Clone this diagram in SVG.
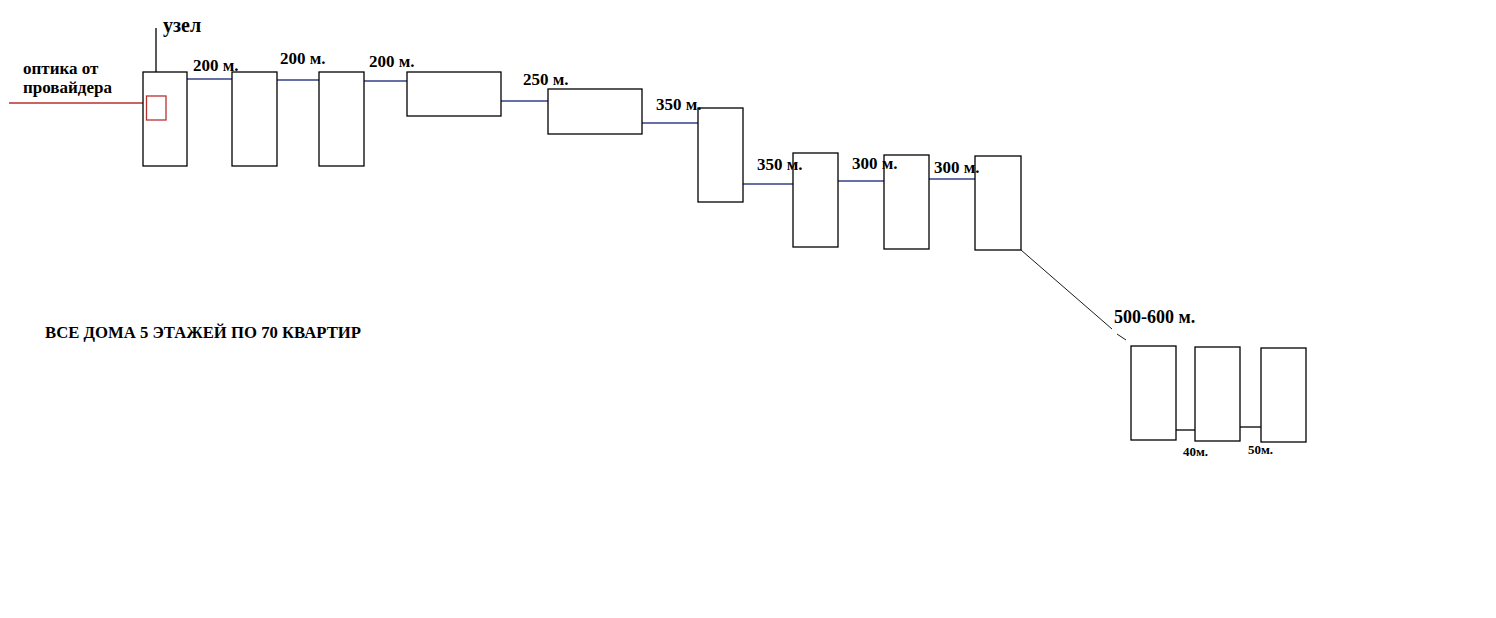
<svg xmlns="http://www.w3.org/2000/svg" width="1496" height="618" viewBox="0 0 1496 618">
<style>
.b{fill:#fff;stroke:#000;stroke-width:1.3}
.t{font-family:"Liberation Serif",serif;font-weight:bold;font-size:17px;fill:#000}
.s{font-size:13px}
.bl{stroke:#33408a;stroke-width:1.3;fill:none}
.k{stroke:#000;stroke-width:1.3;fill:none}
</style>
<rect width="1496" height="618" fill="#fff"/>
<g id="connectors">
<line x1="9" y1="103" x2="143" y2="103" stroke="#b83030" stroke-width="1.3"/>
<line x1="156" y1="28" x2="156" y2="96" class="k"/>
<line x1="187" y1="79" x2="232" y2="79" class="bl"/>
<line x1="277" y1="80" x2="319" y2="80" class="bl"/>
<line x1="364" y1="81" x2="407" y2="81" class="bl"/>
<line x1="501" y1="101" x2="548" y2="101" class="bl"/>
<line x1="642" y1="123" x2="698" y2="123" class="bl"/>
<line x1="743" y1="184" x2="793" y2="184" class="bl"/>
<line x1="838" y1="181" x2="884" y2="181" class="bl"/>
<line x1="929" y1="179" x2="975" y2="179" class="bl"/>
<line x1="1021" y1="250" x2="1112" y2="329" stroke="#000" stroke-width="0.9"/>
<line x1="1117" y1="334" x2="1126" y2="340" stroke="#000" stroke-width="0.9"/>
<line x1="1176" y1="430" x2="1195" y2="430" class="k"/>
<line x1="1240" y1="427" x2="1262" y2="427" class="k"/>
</g>
<g id="house1"><rect class="b" x="143" y="72" width="44" height="94"/></g>
<g id="node"><rect x="146.5" y="96" width="19.5" height="24" fill="none" stroke="#b83030" stroke-width="1.3"/></g>
<g id="house2"><rect class="b" x="232" y="72" width="45" height="94"/></g>
<g id="house3"><rect class="b" x="319" y="72" width="45" height="94"/></g>
<g id="house4"><rect class="b" x="407" y="72" width="94" height="44"/></g>
<g id="house5"><rect class="b" x="548" y="89" width="94" height="45"/></g>
<g id="house6"><rect class="b" x="698" y="108" width="45" height="94"/></g>
<g id="house7"><rect class="b" x="793" y="153" width="45" height="94"/></g>
<g id="house8"><rect class="b" x="884" y="155" width="45" height="94"/></g>
<g id="house9"><rect class="b" x="975" y="156" width="46" height="94"/></g>
<g id="house10"><rect class="b" x="1131" y="346" width="45" height="94"/></g>
<g id="house11"><rect class="b" x="1195" y="347" width="45" height="94"/></g>
<g id="house12"><rect class="b" x="1261" y="348" width="45" height="94"/></g>
<g id="labels">
<text class="t" x="163" y="32" style="font-size:20px">узел</text>
<text class="t" x="23" y="74">оптика от</text>
<text class="t" x="23" y="93">провайдера</text>
<text class="t" x="193" y="71">200 м.</text>
<text class="t" x="280" y="64">200 м.</text>
<text class="t" x="369" y="67">200 м.</text>
<text class="t" x="523" y="85">250 м.</text>
<text class="t" x="656" y="110">350 м.</text>
<text class="t" x="757" y="170">350 м.</text>
<text class="t" x="852" y="169">300 м.</text>
<text class="t" x="934" y="173">300 м.</text>
<text class="t" x="1114" y="323" style="font-size:18px">500-600 м.</text>
<text class="t s" x="1183" y="456">40м.</text>
<text class="t s" x="1248" y="454">50м.</text>
<text class="t" x="45" y="338" style="font-size:16.5px" textLength="316" lengthAdjust="spacingAndGlyphs">ВСЕ ДОМА 5 ЭТАЖЕЙ ПО 70 КВАРТИР</text>
</g>
</svg>
